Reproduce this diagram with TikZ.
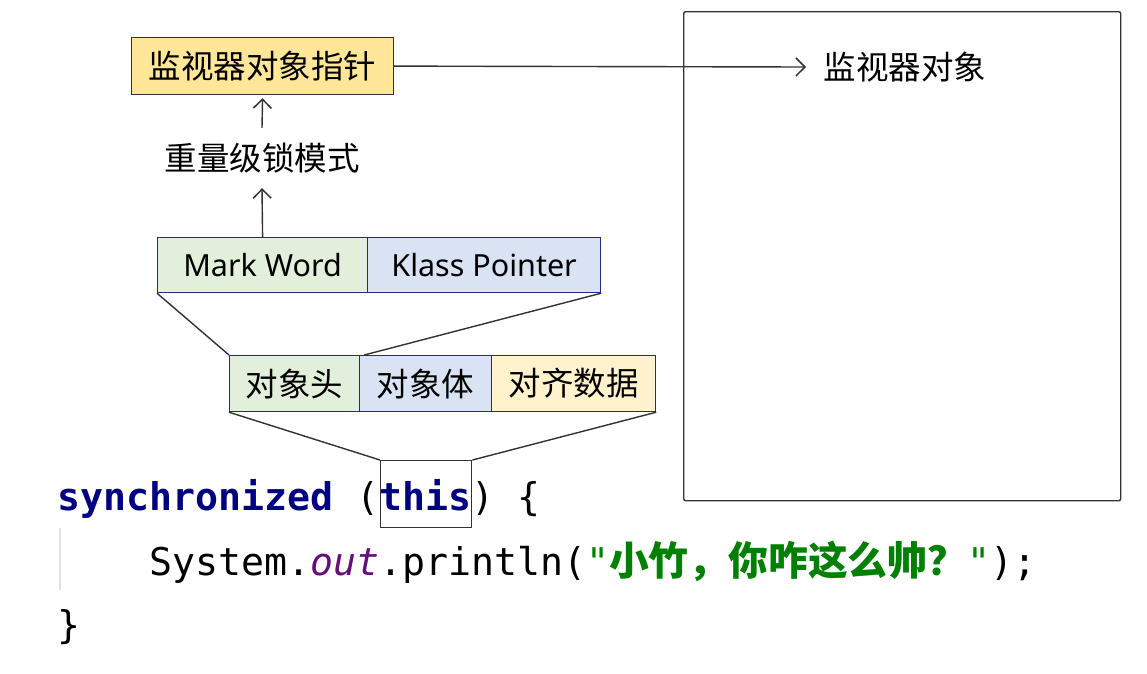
\documentclass[tikz,border=0pt]{standalone}
\usepackage{fontspec}
\usetikzlibrary{arrows.meta}
\newfontfamily\cjk{Noto Sans CJK SC}
\newfontfamily\latinlbl{Noto Sans}
\newfontfamily\codefont{DejaVu Sans Mono}
\definecolor{navy}{RGB}{40,40,130}
\definecolor{ptrfill}{RGB}{255,230,153}
\definecolor{greenfill}{RGB}{226,239,218}
\definecolor{bluefill}{RGB}{218,227,243}
\definecolor{yellowfill}{RGB}{255,242,204}
\definecolor{kw}{RGB}{0,0,128}
\definecolor{field}{RGB}{102,14,122}
\definecolor{str}{RGB}{0,128,0}
\definecolor{guide}{RGB}{225,225,225}
\definecolor{edge}{RGB}{50,50,50}
\tikzset{
  cell/.style={draw=navy, line width=1.2pt, inner sep=0pt, anchor=north west,
    font=\cjk\fontsize{32.5}{38}\selectfont},
  latincell/.style={cell, font=\latinlbl\fontsize{30.5}{36}\selectfont},
  lbl/.style={inner sep=0pt, font=\cjk\fontsize{32.5}{38}\selectfont},
  code/.style={inner sep=0pt, anchor=base west, font=\codefont\fontsize{38.2}{46}\selectfont},
  conn/.style={draw=edge, line width=1.4pt},
  arr/.style={conn, -{Straight Barb[length=9pt,width=18pt,line width=1.5pt]}},
}
\begin{document}
\begin{tikzpicture}[x=1pt,y=-1pt]
\useasboundingbox (0,0) rectangle (1147,673);
% big monitor box
\node[draw=edge, line width=1.4pt, rounded corners=2pt, anchor=north west, minimum width=437, minimum height=489, inner sep=0pt] (monbox) at (683,11) {};
\node[lbl] (monitor) at (905,67) {监视器对象};
\coordinate (montip) at (806,67);
% pointer box
\node[cell, draw=edge, fill=ptrfill, minimum width=262, minimum height=57] (ptr) at (131,37) {监视器对象指针};
\draw[arr] (ptr.east) -- (montip);
% heavy lock label
\node[lbl, minimum height=60] (heavy) at (262,158) {重量级锁模式};
% mark word row
\node[latincell, fill=greenfill, minimum width=210, minimum height=55] (mark) at (157,237) {Mark Word};
\node[latincell, fill=bluefill, minimum width=233, minimum height=55] (klass) at (367,237) {Klass Pointer};
\draw[arr, shorten >=3pt] (heavy.north) -- (ptr.south);
\draw[arr] (mark.north) -- (heavy.south);
% object layout row
\node[cell, fill=greenfill, minimum width=130, minimum height=56] (head) at (229,355) {对象头};
\node[cell, fill=bluefill, minimum width=132, minimum height=56] (body) at (359,355) {对象体};
\node[cell, fill=yellowfill, minimum width=164, minimum height=56] (pad) at (491,355) {对齐数据};
\draw[conn] (mark.south west) -- (head.north west);
\draw[conn] (klass.south east) -- ([xshift=4pt]head.north east);
% this box
\node[draw=edge, line width=1.4pt, anchor=north west, minimum width=91, minimum height=67, inner sep=0pt] (thisbox) at (380,460) {};
\draw[conn] (head.south west) -- (thisbox.north west);
\draw[conn] (pad.south east) -- (thisbox.north east);
% code
\draw[guide, line width=1.5pt] (60,528) -- (60,590);
\node[code] (line1) at (57,510) {{\bfseries\color{kw}synchronized}\ ({\bfseries\color{kw}this})\ \{};
\node[code] (line2) at (149,575) {System.{\itshape\color{field}out}.println({\color{str}"{\cjk\bfseries\fontsize{39.8}{46}\selectfont 小竹，你咋这么帅？}"});};
\node[code] (line3) at (57,638) {\}};
\end{tikzpicture}
\end{document}
